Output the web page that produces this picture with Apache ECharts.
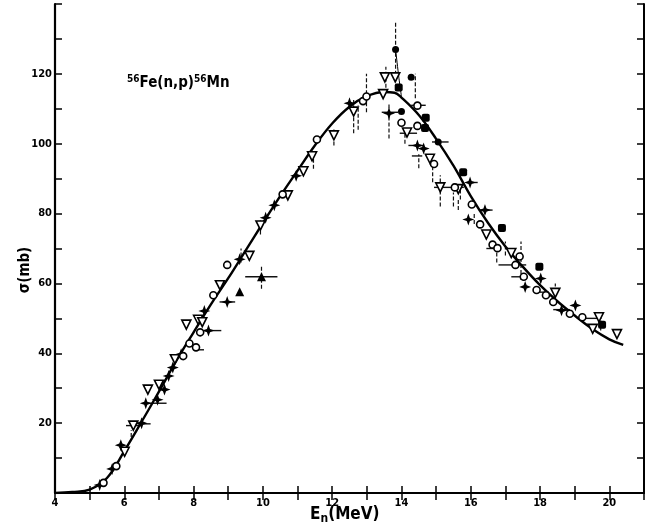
<!DOCTYPE html>
<html>
<head>
<meta charset="utf-8">
<script src="https://cdn.jsdelivr.net/npm/echarts@6/dist/echarts.min.js"></script>
<style>
html,body{margin:0;padding:0;background:#fff;}
#chart{width:659px;height:529px;}
</style>
</head>
<body>
<div id="chart"></div>
<script>
// ---- data ----
const xTickLabels = [4, 6, 8, 10, 12, 14, 16, 18, 20];
const yTickLabels = [20, 40, 60, 80, 100, 120];

// evaluated excitation function (solid curve)
const curve = [[4,0],[4.5,0.3],[5,1.0],[5.5,4.3],[6,12],[6.5,20.4],[7,29],[7.5,37.8],[8,46],[8.5,54],[9,61.5],[9.5,69.4],[10,77.3],[10.5,85],[11,92.3],[11.5,99.5],[12,105.8],[12.5,110.6],[13,113.6],[13.5,114.8],[13.8,114.6],[14,113.2],[14.5,108.2],[15,101.4],[15.5,93.7],[16,85],[16.5,77.3],[17,70.6],[17.5,64.8],[18,59.5],[18.5,54.9],[19,50.8],[19.5,47],[20,44],[20.4,42.4]];
const hook = [[13.83,127],[13.9,121],[13.95,117],[14.0,113.5]];

const openTriangles = [[6.01,11.8],[6.26,19.3],[6.68,29.6],[7.0,31],[7.46,38.3],[7.79,48.2],[8.13,49.6],[8.25,48.9],[8.76,59.5],[9.61,67.9],[9.93,76.6],[10.72,85.2],[11.17,92.1],[11.42,96.4],[12.05,102.4],[12.62,109.2],[13.47,114.2],[13.52,119],[13.82,119],[14.16,103.2],[14.82,95.7],[15.12,87.5],[15.64,87],[16.45,74],[17.17,68.7],[18.44,57.3],[19.52,47],[19.7,50.3],[20.22,45.5]];
const filledStars = [[5.29,2.3],[5.65,6.9],[5.9,13.7],[6.5,20],[6.62,25.7],[6.96,26.7],[7.16,29.6],[7.28,33.5],[7.4,35.9],[7.64,39.7],[8.43,46.5],[8.31,52.1],[8.97,54.7],[9.33,66.9],[10.08,78.8],[10.33,82.4],[10.96,90.8],[12.5,111.6],[13.64,108.7],[14.46,99.5],[14.64,98.6],[15.98,88.9],[15.93,78.3],[16.41,81],[17.57,59],[18.02,61.4],[18.62,52.3],[19.02,53.7]];
const openCircles = [[5.4,2.9],[5.77,7.7],[7.7,39.2],[7.88,42.8],[8.07,41.7],[8.19,46],[8.57,56.6],[8.97,65.3],[10.57,85.5],[11.56,101.2],[12.89,112.2],[12.99,113.5],[14.0,106],[14.46,105.1],[14.46,110.9],[14.94,94.2],[15.54,87.5],[16.03,82.6],[16.27,76.9],[16.63,71.1],[16.77,70.1],[17.41,67.7],[17.29,65.3],[17.53,61.9],[17.9,58.1],[18.17,56.6],[18.38,54.7],[18.86,51.3],[19.22,50.3]];
const filledTriangles = [[9.33,57.6],[9.96,61.9]];
const filledCircles = [[13.83,127],[14.28,119],[14.0,109.2],[15.06,100.5]];
const filledSquares = [[13.92,116.1],[14.7,107.4],[14.68,104.5],[15.78,91.8],[16.9,75.9],[17.98,64.8],[19.79,48.2]];

// error bars: vertical [x, low, high], horizontal [y, low, high]
const vErrors = [[13.83,118,135],[12.99,109,120],[12.62,103,112.5],[12.75,104,111],[14.4,113,120],[13.64,101.5,111.6],[13.55,116,122],[14.5,93,97],[15.12,82,91],[15.5,82,86],[15.64,81,84],[16.75,66,69],[17.45,61,72],[18.44,54,60],[9.37,66,70],[9.96,58.5,65],[12.05,99.5,104.4],[11.46,92.8,96.6],[9.93,74,78],[6.2,16,18],[17.0,68,72],[19.75,46.5,50],[14.1,100,104],[14.9,89,94],[15.7,84,88],[16.1,77,80]];
const hErrors = [[61.9,9.49,10.42],[54.7,8.75,9.2],[46.5,8.3,8.8],[41,8.0,8.3],[19.3,6.05,6.5],[19.8,6.38,6.76],[25.7,6.56,7.22],[100.5,14.88,15.36],[87.5,14.94,15.8],[88.9,15.9,16.2],[81,16.27,16.63],[70,16.45,16.87],[65.3,16.8,17.6],[61.9,17.17,17.6],[57.5,17.9,18.25],[52.5,18.38,18.86],[50,19.28,19.77],[111,14.28,14.7],[103,13.95,14.45],[99.5,14.2,14.64],[109,13.43,13.9],[96.5,14.3,14.6]];

// ---- chart ----
const FONT = '"DejaVu Sans Condensed","Liberation Sans Narrow","DejaVu Sans",sans-serif';
const STAR4 = 'path://M0,-10 L2.6,-2.6 L10,0 L2.6,2.6 L0,10 L-2.6,2.6 L-10,0 L-2.6,-2.6 Z';
const chart = echarts.init(document.getElementById('chart'));

function vErrItem(params, api) {
  const p1 = api.coord([api.value(0), api.value(1)]);
  const p2 = api.coord([api.value(0), api.value(2)]);
  return {type: 'line', shape: {x1: p1[0], y1: p1[1], x2: p2[0], y2: p2[1]},
          style: {stroke: '#111', lineWidth: 1.2, lineDash: [4, 2]}};
}
function hErrItem(params, api) {
  const p1 = api.coord([api.value(1), api.value(0)]);
  const p2 = api.coord([api.value(2), api.value(0)]);
  return {type: 'line', shape: {x1: p1[0], y1: p1[1], x2: p2[0], y2: p2[1]},
          style: {stroke: '#111', lineWidth: 1.4}};
}

const tickStyle = {show: true, inside: true, length: 7, lineStyle: {color: '#000', width: 1.5}};
const labelStyle = {color: '#000', fontFamily: FONT, fontWeight: 'bold', fontSize: 11};

const option = {
  backgroundColor: '#fff',
  animation: false,
  grid: {left: 55, right: 15, top: 4, bottom: 36, containLabel: false},
  xAxis: [
    {type: 'value', min: 4, max: 21, interval: 1, position: 'bottom',
     axisLine: {show: true, lineStyle: {color: '#000', width: 2.2}},
     axisTick: tickStyle, splitLine: {show: false},
     axisLabel: Object.assign({}, labelStyle, {margin: 5,
       formatter: v => xTickLabels.indexOf(v) >= 0 ? String(v) : ''})},
    {type: 'value', min: 4, max: 21, interval: 1, position: 'top',
     axisLine: {show: true, lineStyle: {color: '#000', width: 2}},
     axisTick: tickStyle, splitLine: {show: false}, axisLabel: {show: false}}
  ],
  yAxis: [
    {type: 'value', min: 0, max: 140, interval: 10, position: 'left',
     axisLine: {show: true, lineStyle: {color: '#000', width: 2.2}},
     axisTick: tickStyle, splitLine: {show: false},
     axisLabel: Object.assign({}, labelStyle, {margin: 3,
       formatter: v => yTickLabels.indexOf(v) >= 0 ? String(v) : ''})},
    {type: 'value', min: 0, max: 140, interval: 10, position: 'right',
     axisLine: {show: true, lineStyle: {color: '#000', width: 2}},
     axisTick: tickStyle, splitLine: {show: false}, axisLabel: {show: false}}
  ],
  graphic: [
    {type: 'text', left: 127, top: 74, silent: true,
     style: {text: '{s|56}{m|Fe(n,p)}{s|56}{m|Mn}', fill: '#000',
       rich: {s: {fontSize: 10, fontFamily: FONT, fontWeight: 'bold', verticalAlign: 'top', lineHeight: 18, fill: '#000'},
              m: {fontSize: 15, fontFamily: FONT, fontWeight: 'bold', lineHeight: 18, fill: '#000'}}}},
    {type: 'text', left: 310, top: 506, silent: true,
     style: {text: '{m|E}{s|n}{m|(MeV)}', fill: '#000',
       rich: {m: {fontSize: 17, fontFamily: FONT, fontWeight: 'bold', lineHeight: 20, fill: '#000'},
              s: {fontSize: 12, fontFamily: FONT, fontWeight: 'bold', lineHeight: 20, verticalAlign: 'bottom', fill: '#000'}}}},
    {type: 'text', x: 25, y: 270, rotation: Math.PI / 2, silent: true,
     style: {text: 'σ(mb)', fill: '#000', fontSize: 15, fontFamily: FONT, fontWeight: 'bold',
             align: 'center', verticalAlign: 'middle'}}
  ],
  series: [
    {type: 'custom', name: 'vErr', renderItem: vErrItem, data: vErrors, z: 1,
     encode: {x: 0, y: [1, 2]}, silent: true},
    {type: 'custom', name: 'hErr', renderItem: hErrItem, data: hErrors, z: 1,
     encode: {x: [1, 2], y: 0}, silent: true},
    {type: 'line', name: 'curve', data: curve, smooth: 0.4, showSymbol: false, z: 3,
     lineStyle: {color: '#000', width: 2.4}},
    {type: 'line', name: 'hook', data: hook, smooth: true, showSymbol: false, z: 3,
     lineStyle: {color: '#000', width: 1}},
    {type: 'scatter', name: 'open triangles', data: openTriangles, symbol: 'triangle', symbolRotate: 180,
     symbolSize: 9, z: 4, itemStyle: {color: '#fff', borderColor: '#000', borderWidth: 1.6, opacity: 1}},
    {type: 'scatter', name: 'filled stars', data: filledStars, symbol: STAR4,
     symbolSize: 12, z: 4, itemStyle: {color: '#000', opacity: 1}},
    {type: 'scatter', name: 'open circles', data: openCircles, symbol: 'circle',
     symbolSize: 7, z: 4, itemStyle: {color: '#fff', borderColor: '#000', borderWidth: 1.6, opacity: 1}},
    {type: 'scatter', name: 'filled triangles', data: filledTriangles, symbol: 'triangle',
     symbolSize: 9, z: 4, itemStyle: {color: '#000', opacity: 1}},
    {type: 'scatter', name: 'filled circles', data: filledCircles, symbol: 'circle',
     symbolSize: 7, z: 4, itemStyle: {color: '#000', opacity: 1}},
    {type: 'scatter', name: 'filled squares', data: filledSquares, symbol: 'roundRect',
     symbolSize: 8, z: 4, itemStyle: {color: '#000', opacity: 1}}
  ]
};
chart.setOption(option);
</script>
</body>
</html>
